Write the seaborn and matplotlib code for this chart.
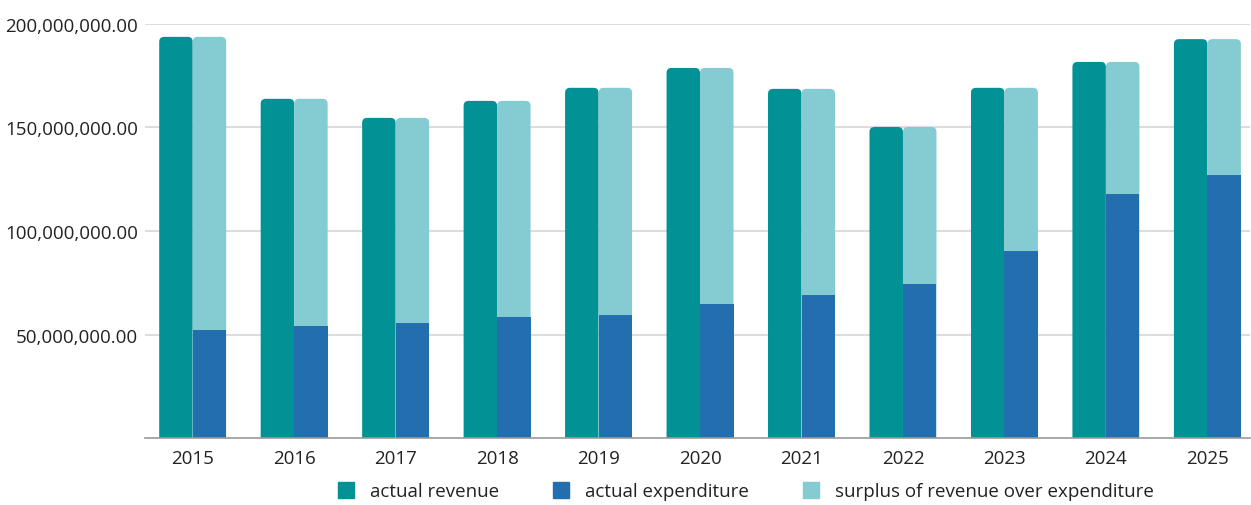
import numpy as np
import pandas as pd
import matplotlib
matplotlib.use("Agg")
import matplotlib.pyplot as plt
from matplotlib.path import Path
from matplotlib.patches import PathPatch
from matplotlib.lines import Line2D
from matplotlib.ticker import FuncFormatter
import seaborn as sns

years = ["2015", "2016", "2017", "2018", "2019", "2020", "2021", "2022", "2023", "2024", "2025"]
revenue = [193.7e6, 163.8e6, 154.6e6, 162.8e6, 169.1e6, 178.7e6, 168.6e6, 150.2e6, 169.1e6, 181.6e6, 192.6e6]
expenditure = [52.2e6, 54.1e6, 55.6e6, 58.5e6, 59.4e6, 64.7e6, 69.1e6, 74.4e6, 90.5e6, 118.0e6, 126.9e6]
surplus = [r - e for r, e in zip(revenue, expenditure)]

labels = ["actual revenue", "actual expenditure", "surplus of revenue over expenditure"]
teal, blue, light = "#029194", "#236EAF", "#84CBD2"

# left bar = revenue, right bar = expenditure + surplus stacked (top = revenue)
df = pd.DataFrame({
    "year": years * 2,
    "kind": ["rev"] * len(years) + ["stack"] * len(years),
    "value": revenue + [e + s for e, s in zip(expenditure, surplus)],
})
# zero-height "rev" rows keep the dodge slots aligned with the first layer
df_exp = pd.DataFrame({
    "year": years * 2,
    "kind": ["rev"] * len(years) + ["stack"] * len(years),
    "value": [0.0] * len(years) + expenditure,
})

sns.set_style("white")
plt.rcParams["font.family"] = ["Open Sans", "DejaVu Sans"]

fig = plt.figure(figsize=(12.51, 5.06), dpi=100)
ax = fig.add_axes([145 / 1251, 0.132, 1105 / 1251, 0.819])

sns.barplot(data=df, x="year", y="value", hue="kind", hue_order=["rev", "stack"],
            palette={"rev": teal, "stack": light}, width=0.66, saturation=1,
            linewidth=0, errorbar=None, legend=False, ax=ax, zorder=2)

# round top corners of the top bars
rx, ry = 0.05, 2.4e6
for cont in list(ax.containers):
    for rect in list(cont):
        x0, w, h = rect.get_x(), rect.get_width(), rect.get_height()
        x1 = x0 + w
        verts = [(x0, 0), (x0, h - ry), (x0, h), (x0 + rx, h), (x1 - rx, h),
                 (x1, h), (x1, h - ry), (x1, 0), (x0, 0)]
        codes = [Path.MOVETO, Path.LINETO, Path.CURVE3, Path.CURVE3, Path.LINETO,
                 Path.CURVE3, Path.CURVE3, Path.LINETO, Path.CLOSEPOLY]
        ax.add_patch(PathPatch(Path(verts, codes), facecolor=rect.get_facecolor(),
                               edgecolor="none", zorder=2))
        rect.set_visible(False)

sns.barplot(data=df_exp, x="year", y="value", hue="kind", hue_order=["rev", "stack"],
            palette={"rev": teal, "stack": blue}, width=0.66, saturation=1,
            linewidth=0, errorbar=None, legend=False, ax=ax, zorder=3)

ax.set_ylim(0, 200e6)
ax.set_xlim(-0.47, len(years) - 1 + 0.42)
ax.set_yticks([50e6, 100e6, 150e6, 200e6])
ax.yaxis.set_major_formatter(FuncFormatter(lambda v, p: f"{v:,.2f}"))
ax.grid(axis="y", color="#dddddd", linewidth=1.5)
ax.set_axisbelow(True)
for s in ["top", "right", "left"]:
    ax.spines[s].set_visible(False)
ax.spines["bottom"].set_color("#999999")
ax.spines["bottom"].set_linewidth(1.2)
ax.spines["bottom"].set_zorder(4)
ax.tick_params(axis="both", length=0, labelsize=13.5, colors="#222222")
ax.tick_params(axis="x", pad=8)
ax.tick_params(axis="y", pad=5)
ax.set_xlabel("")
ax.set_ylabel("")

handles = [Line2D([], [], marker="s", linestyle="", markersize=11, color=c)
           for c in [teal, blue, light]]
fig.legend(handles, labels, loc="center", bbox_to_anchor=(0.592, 0.027), ncol=3,
           frameon=False, fontsize=13.5, columnspacing=2.3, handletextpad=0.3,
           labelcolor="#222222")

fig.savefig("out.png", dpi=100)
